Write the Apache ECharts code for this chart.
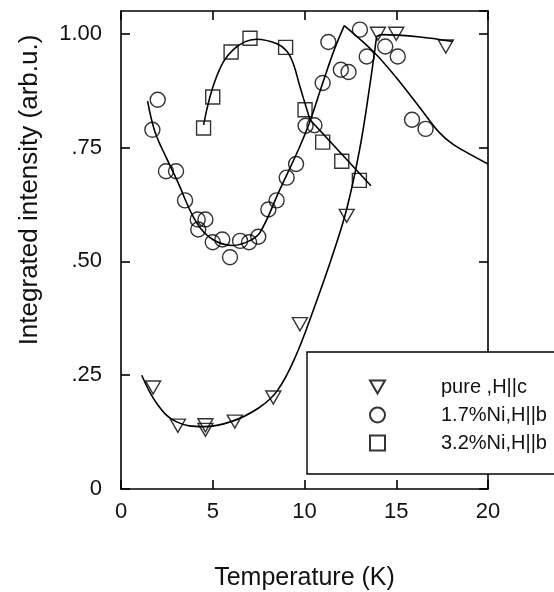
<!DOCTYPE html>
<html><head><meta charset="utf-8">
<script src="https://cdn.jsdelivr.net/npm/echarts@6/dist/echarts.min.js"></script>
<style>html,body{margin:0;padding:0;background:#fff}#c{width:554px;height:592px}</style>
</head><body><div id="c"></div>
<script>
// ---- data ----
const seriesNames = ['pure ,H||c', '1.7%Ni,H||b', '3.2%Ni,H||b'];
const yTickLabels = {0: '0', 0.25: '.25', 0.5: '.50', 0.75: '.75', 1: '1.00'};
const xTickLabels = {0: '0', 5: '5', 10: '10', 15: '15', 20: '20'};

const pureX = [1.75, 3.1, 4.6, 4.6, 6.2, 8.3, 9.75, 12.3, 14.0, 15.0, 17.7];
const pureY = [0.223, 0.139, 0.14, 0.13, 0.148, 0.201, 0.362, 0.60, 1.0, 1.0, 0.972];

const ni17X = [1.71, 2.0, 2.45, 3.0, 3.49, 4.18, 4.21, 4.6, 5.0, 5.52, 5.94, 6.49, 6.98, 7.48, 8.03, 8.48, 9.03, 9.54, 10.06, 10.54, 10.99, 11.3, 11.98, 12.4, 13.02, 13.39, 14.4, 15.08, 15.86, 16.6];
const ni17Y = [0.789, 0.855, 0.698, 0.698, 0.634, 0.592, 0.57, 0.592, 0.542, 0.548, 0.509, 0.545, 0.542, 0.554, 0.614, 0.634, 0.684, 0.714, 0.798, 0.799, 0.892, 0.982, 0.921, 0.916, 1.009, 0.95, 0.972, 0.95, 0.811, 0.791];

const ni32X = [4.5, 5.0, 6.0, 7.03, 8.97, 10.03, 10.99, 12.03, 12.99];
const ni32Y = [0.793, 0.861, 0.96, 0.99, 0.97, 0.833, 0.762, 0.72, 0.678];

// fitted guide curves
const pureFitX = [1.13, 2.0, 3.0, 4.5, 6.0, 7.5, 8.5, 9.5, 10.5, 11.5, 12.3, 13.0, 13.5, 13.93];
const pureFitY = [0.25, 0.185, 0.148, 0.137, 0.148, 0.178, 0.215, 0.29, 0.395, 0.51, 0.615, 0.745, 0.87, 0.994];
const pureFlatX = [13.93, 14.2, 16.3, 18.1];
const pureFlatY = [0.994, 0.998, 0.993, 0.983];

const ni17RiseX = [1.45, 1.85, 2.5, 3.03, 4.12, 5.0, 6.1, 7.0, 7.57, 8.66, 9.75, 10.3, 11.02, 11.66, 12.17];
const ni17RiseY = [0.852, 0.785, 0.725, 0.68, 0.585, 0.548, 0.535, 0.545, 0.563, 0.658, 0.753, 0.808, 0.895, 0.969, 1.018];
const ni17FallX = [12.17, 13.75, 15.02, 16.3, 17.3, 18.1, 20.0];
const ni17FallY = [1.018, 0.961, 0.903, 0.837, 0.785, 0.757, 0.714];

const ni32FitX = [4.5, 5.21, 6.12, 7.39, 8.5, 9.03, 9.39, 9.75, 10.3];
const ni32FitY = [0.80, 0.906, 0.965, 0.988, 0.978, 0.962, 0.934, 0.884, 0.811];
const ni32LineX = [10.3, 13.62];
const ni32LineY = [0.811, 0.666];

// ---- chart ----
const zip = (xs, ys) => xs.map((x, i) => [x, ys[i]]);
const FONT = 'Liberation Sans, Arial, Helvetica, sans-serif';
const INK = '#000';
const triPath = 'path://M0,0L20,0L10,17.3Z';
const sqPath = 'path://M0,0L10,0L10,10L0,10Z';
const hollow = {color: 'rgba(0,0,0,0)', borderColor: INK, borderWidth: 1.4};

function fitLine(xs, ys, smooth) {
  return {
    type: 'line', data: zip(xs, ys), symbol: 'none', smooth: smooth,
    lineStyle: {color: INK, width: 1.6}, silent: true, z: 2
  };
}

const chart = echarts.init(document.getElementById('c'), null, {renderer: 'canvas'});
const frameAxis = {
  axisLine: {show: true, onZero: false, lineStyle: {color: INK, width: 1.6}},
  axisTick: {show: true, inside: true, length: 9, lineStyle: {color: INK, width: 1.6}},
  splitLine: {show: false}
};
chart.setOption({
  animation: false,
  backgroundColor: '#fff',
  textStyle: {fontFamily: FONT},
  grid: {left: 121, right: 66, top: 11, bottom: 103, containLabel: false, outerBoundsMode: 'none'},
  xAxis: [
    Object.assign({
      type: 'value', min: 0, max: 20, interval: 5, position: 'bottom',
      name: 'Temperature (K)', nameLocation: 'middle', nameGap: 77,
      nameTextStyle: {fontSize: 25, color: '#111', fontFamily: FONT},
      axisLabel: {fontSize: 22, color: '#111', margin: 12, fontFamily: FONT,
        formatter: v => xTickLabels[v] !== undefined ? xTickLabels[v] : ''}
    }, frameAxis),
    Object.assign({
      type: 'value', min: 0, max: 20, interval: 5, position: 'top',
      axisLabel: {show: false}
    }, frameAxis)
  ],
  yAxis: [
    Object.assign({
      type: 'value', min: 0, max: 1.05, interval: 0.25, position: 'left',
      name: 'Integrated intensity (arb.u.)', nameLocation: 'middle', nameGap: 78,
      nameTextStyle: {fontSize: 26, color: '#111', fontFamily: FONT, padding: [0, 0, 0, 120]},
      axisLabel: {fontSize: 22, color: '#111', margin: 19, fontFamily: FONT, showMaxLabel: false,
        formatter: v => yTickLabels[v] !== undefined ? yTickLabels[v] : ''}
    }, frameAxis),
    Object.assign({
      type: 'value', min: 0, max: 1.05, interval: 0.25, position: 'right',
      axisLabel: {show: false}
    }, frameAxis)
  ],
  legend: {
    data: seriesNames, orient: 'vertical', left: 307, top: 352,
    itemWidth: 15, itemHeight: 15, itemGap: 8,
    padding: [25, 60, 21, 62],
    backgroundColor: '#fff', borderColor: INK, borderWidth: 1.4, borderRadius: 0,
    selectedMode: false,
    textStyle: {fontSize: 20, lineHeight: 20, color: '#111', fontFamily: FONT, padding: [0, 0, 0, 51]}
  },
  series: [
    fitLine(pureFitX, pureFitY, 0.4),
    fitLine(pureFlatX, pureFlatY, 0.3),
    fitLine(ni17RiseX, ni17RiseY, 0.4),
    fitLine(ni17FallX, ni17FallY, 0.3),
    fitLine(ni32FitX, ni32FitY, 0.4),
    fitLine(ni32LineX, ni32LineY, false),
    {name: seriesNames[0], type: 'scatter', data: zip(pureX, pureY), symbol: triPath, symbolSize: [15, 13], itemStyle: hollow, z: 3},
    {name: seriesNames[1], type: 'scatter', data: zip(ni17X, ni17Y), symbol: 'circle', symbolSize: 15, itemStyle: hollow, z: 3},
    {name: seriesNames[2], type: 'scatter', data: zip(ni32X, ni32Y), symbol: sqPath, symbolSize: 14, itemStyle: hollow, z: 3}
  ]
});
</script>
</body></html>
